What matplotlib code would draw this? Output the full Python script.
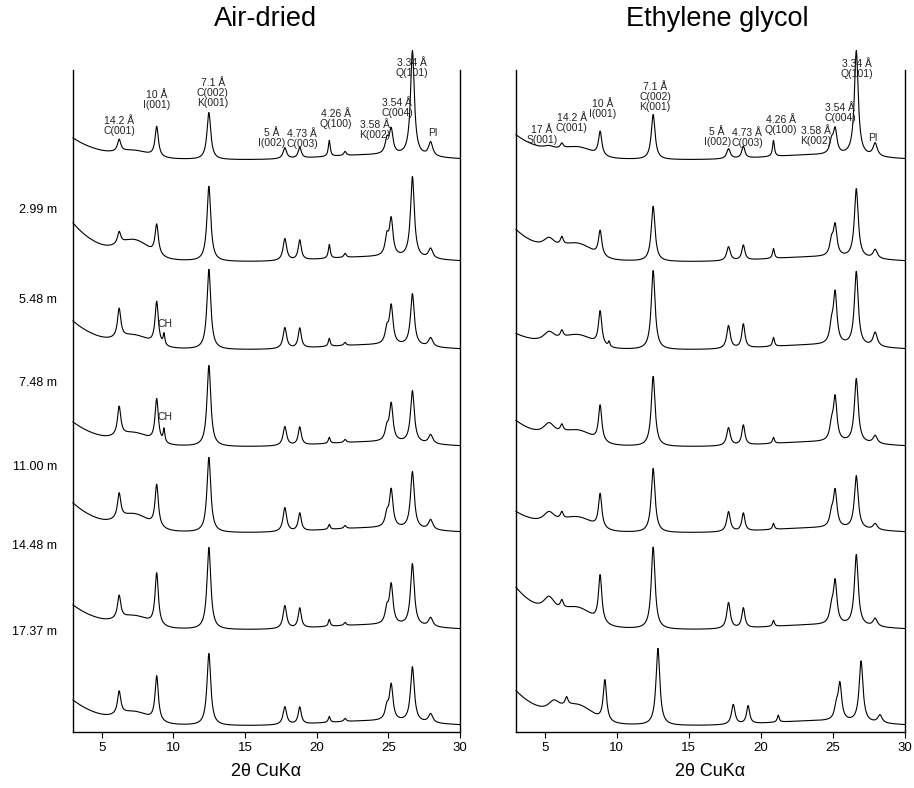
"""
XRD-дифрактограммы глинистой фракции: воздушно-сухие и насыщенные этиленгликолем образцы
"""

import matplotlib
matplotlib.use("Agg")
import matplotlib.pyplot as plt
import numpy as np

plt.rcParams['font.family'] = ['Liberation Sans', 'DejaVu Sans']

# Ось 2θ
two_theta = np.linspace(3, 30, 2701)

# Подписи глубин (верхняя кривая без подписи)
depth_labels = ["2.99 m", "5.48 m", "7.48 m", "11.00 m", "14.48 m", "17.37 m"]
depth_label_y = [522, 432, 349, 265, 186, 100]

# Смещение кривых по вертикали (сверху вниз)
offsets = [572, 470, 382, 285, 199, 102, 6]

# ---------- Air-dried ----------
# Пики: 14.2 Å, 10 Å, CH, 7.1 Å, 5 Å, 4.73 Å, 4.26 Å, 4.04 Å, 3.58 Å, 3.54 Å, 3.34 Å, Pl
ad_peak_pos = [6.22, 8.84, 9.35, 12.48, 17.78, 18.82, 20.88, 21.98, 24.90, 25.20, 26.68, 27.95]
ad_peak_hwhm = [0.14, 0.14, 0.07, 0.16, 0.15, 0.13, 0.08, 0.10, 0.15, 0.15, 0.16, 0.18]
ad_heights = [
    [12, 30, 0, 47, 11, 11, 16, 4, 14, 24, 105, 14],
    [12, 30, 0, 75, 22, 20, 14, 4, 18, 36, 81, 10],
    [29, 43, 11, 80, 21, 20, 8, 3, 14, 38, 52, 9],
    [29, 43, 13, 81, 19, 18, 6, 3, 12, 37, 52, 9],
    [25, 42, 0, 75, 24, 18, 5, 3, 12, 37, 57, 10],
    [23, 52, 0, 82, 23, 20, 7, 3, 14, 39, 62, 9],
    [23, 45, 0, 72, 18, 17, 6, 3, 12, 35, 55, 9],
]
ad_low = [22, 39, 29, 25, 30, 25, 26]     # фон в области малых углов
ad_hump = [6, 16, 10, 10, 14, 10, 10]     # широкий горб 6-9°
ad_shift = [0, 0, 0, 0, 0, 0, 0]

# ---------- Ethylene glycol ----------
# Пики: 17 Å, 14.2 Å, 9.46°, 10 Å, 7.1 Å, 5 Å, 4.73 Å, 4.26 Å, 3.58 Å, 3.54 Å, 3.34 Å, Pl
eg_peak_pos = [5.30, 6.18, 9.46, 8.84, 12.52, 17.75, 18.78, 20.87, 24.90, 25.15, 26.62, 27.93]
eg_peak_hwhm = [0.50, 0.12, 0.07, 0.14, 0.16, 0.15, 0.13, 0.08, 0.15, 0.15, 0.16, 0.18]
eg_heights = [
    [4, 5, 0, 24, 45, 10, 12, 16, 12, 24, 105, 13],
    [11, 8, 0, 25, 55, 14, 15, 10, 14, 30, 69, 9],
    [11, 7, 5, 34, 79, 23, 24, 9, 16, 50, 74, 14],
    [13, 7, 0, 36, 70, 18, 20, 6, 14, 43, 64, 8],
    [12, 7, 0, 34, 64, 20, 18, 6, 12, 36, 53, 6],
    [16, 8, 0, 47, 82, 26, 20, 6, 14, 42, 71, 8],
    [11, 8, 0, 41, 77, 20, 18, 7, 12, 36, 61, 8],
]
eg_low = [25, 32, 16, 26, 21, 42, 35]
eg_hump = [9, 13, 12, 12, 12, 15, 15]
eg_shift = [0, 0, 0, 0, 0, 0, 0.33]

# Подписи пиков на верхней кривой: (текст, 2θ, y)
ad_annot = [
    ("14.2 Å\nC(001)", 6.21, 606),
    ("10 Å\nI(001)", 8.86, 632),
    ("7.1 Å\nC(002)\nK(001)", 12.75, 639),
    ("5 Å\nI(002)", 16.89, 594),
    ("4.73 Å\nC(003)", 18.98, 593),
    ("4.26 Å\nQ(100)", 21.35, 613),
    ("3.58 Å\nK(002)", 24.07, 602),
    ("3.54 Å\nC(004)", 25.61, 624),
    ("3.34 Å\nQ(101)", 26.66, 664),
    ("Pl", 28.12, 599),
    ("CH", 9.42, 408),
    ("CH", 9.42, 315),
]
eg_annot = [
    ("17 Å\nS(001)", 4.81, 597),
    ("14.2 Å\nC(001)", 6.87, 609),
    ("10 Å\nI(001)", 9.04, 623),
    ("7.1 Å\nC(002)\nK(001)", 12.65, 635),
    ("5 Å\nI(002)", 16.96, 595),
    ("4.73 Å\nC(003)", 19.04, 594),
    ("4.26 Å\nQ(100)", 21.4, 607),
    ("3.58 Å\nK(002)", 23.83, 596),
    ("3.54 Å\nC(004)", 25.5, 619),
    ("3.34 Å\nQ(101)", 26.68, 663),
    ("Pl", 27.79, 594),
]


def pattern(pos, hwhm, heights, low, hump, shift):
    """Сумма лоренцевых пиков плюс фон"""
    x = two_theta
    y = low * np.exp(-(x - 3.0) / 2.3)
    y += hump * np.exp(-((x - 7.3) / 1.0) ** 2 / 2)
    y += 5 * np.exp(-((x - 24.0) / 3.5) ** 2 / 2)
    for p, w, h in zip(pos, hwhm, heights):
        y += h / (1 + ((x - p - shift) / w) ** 2)
    return y


def draw_panel(ax, pos, hwhm, heights, low, hump, shift, annot):
    for i in range(len(offsets)):
        y = pattern(pos, hwhm, heights[i], low[i], hump[i], shift[i])
        ax.plot(two_theta, y + offsets[i], color='black', lw=0.8, clip_on=False)

    for text, x, y in annot:
        ax.text(x, y, text, ha='center', va='center', fontsize=7.5,
                linespacing=1.05, color='#222222')

    ax.set_xlim(3, 30)
    ax.set_ylim(0, 687)
    ax.set_xticks([5, 10, 15, 20, 25, 30])
    ax.set_yticks([])
    ax.tick_params(axis='x', direction='out', length=4, width=0.8,
                   labelsize=9.5, pad=3)
    ax.spines['top'].set_visible(False)
    ax.spines['left'].set_bounds(0, 662)
    ax.spines['right'].set_bounds(0, 662)
    for s in ['left', 'right', 'bottom']:
        ax.spines[s].set_linewidth(1.0)
    ax.set_xlabel("2θ CuKα", fontsize=13, labelpad=7)


if __name__ == "__main__":
    fig = plt.figure(figsize=(9.14, 7.88), dpi=100)
    ax1 = fig.add_axes([73 / 914, 56 / 788, 387 / 914, 687 / 788])
    ax2 = fig.add_axes([516 / 914, 56 / 788, 389 / 914, 687 / 788])

    draw_panel(ax1, ad_peak_pos, ad_peak_hwhm, ad_heights, ad_low, ad_hump,
               ad_shift, ad_annot)
    draw_panel(ax2, eg_peak_pos, eg_peak_hwhm, eg_heights, eg_low, eg_hump,
               eg_shift, eg_annot)

    # Заголовки панелей
    fig.text(266 / 914, 1 - 19 / 788, "Air-dried", ha='center', va='center',
             fontsize=19.5)
    fig.text(717 / 914, 1 - 19 / 788, "Ethylene glycol", ha='center',
             va='center', fontsize=19.5)

    # Подписи глубин слева
    for label, y in zip(depth_labels, depth_label_y):
        ax1.text(-0.041, y, label, transform=ax1.get_yaxis_transform(),
                 ha='right', va='center', fontsize=9)

    fig.savefig("out.png", dpi=100)
